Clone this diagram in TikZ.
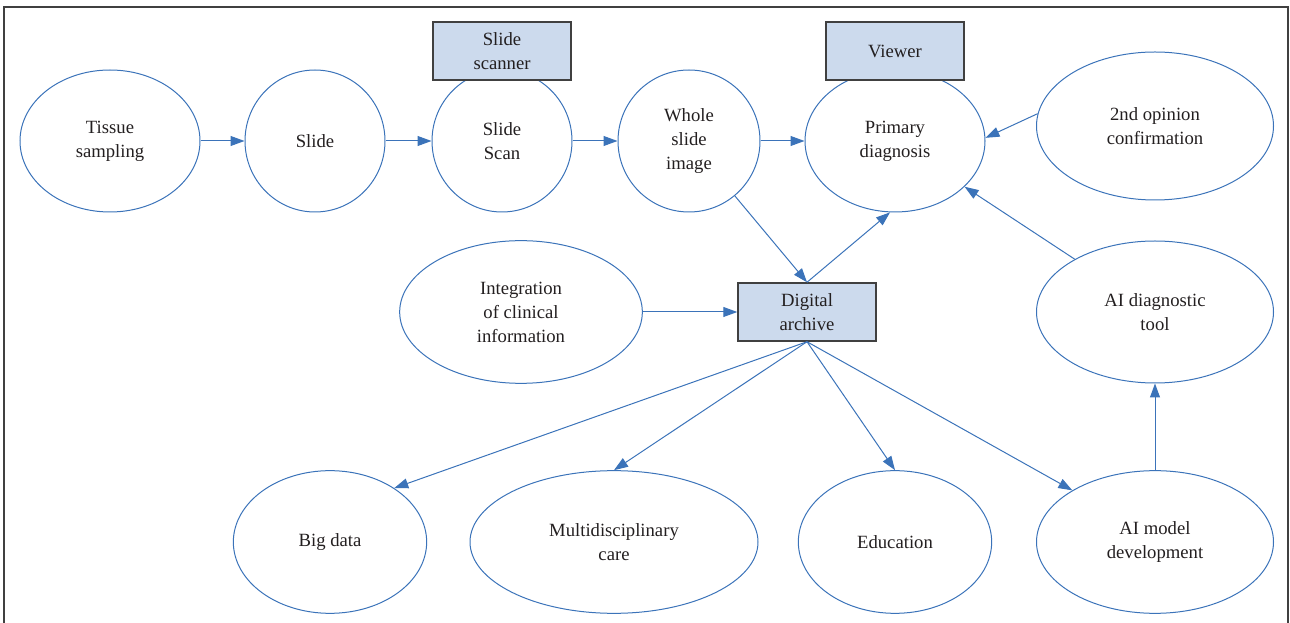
\documentclass[tikz,border=0pt]{standalone}
\usepackage{fontspec}
\setmainfont{Liberation Serif}
\usepackage{tikz}
\usetikzlibrary{shapes,arrows.meta}
\definecolor{lineblue}{RGB}{59,115,185}
\definecolor{boxfill}{RGB}{204,218,237}
\definecolor{boxline}{RGB}{64,64,64}
\definecolor{textgray}{RGB}{35,31,32}
\tikzstyle{Bubble} = [ellipse, draw=lineblue, line width=0.75pt, inner sep=0pt,
    align=center, text=textgray, font=\fontsize{14}{18}\selectfont]
\tikzstyle{Device} = [rectangle, draw=boxline, line width=1.1pt, fill=boxfill,
    minimum width=103.5pt, minimum height=43.5pt, inner sep=0pt,
    align=center, text=textgray, font=\fontsize{14}{18}\selectfont]
\tikzstyle{arrow} = [draw=lineblue, line width=0.75pt, -{Triangle[length=10.5pt,width=7.5pt]}]

\begin{document}
\begin{tikzpicture}[x=0.75pt, y=-0.75pt]
        \useasboundingbox (0,0) rectangle (1290,623);
        \draw [boxline, line width=0.8pt] (4,623) -- (4,7) -- (1288,7) -- (1288,623); %frame
        \node [Bubble, minimum width=135pt, minimum height=106.5pt] (Tissue) at (110,141) {Tissue\\sampling};
        \node [Bubble, minimum width=105pt, minimum height=106.5pt] (Slide) at (315,141) {Slide};
        \node [Bubble, minimum width=105pt, minimum height=106.5pt] (Scan) at (502,141) {Slide\\Scan};
        \node [Bubble, minimum width=106.5pt, minimum height=106.5pt] (WSI) at (689,141) {Whole\\slide\\image};
        \node [Bubble, minimum width=135pt, minimum height=106.5pt] (Primary) at (895,141) {Primary\\diagnosis};
        \node [Bubble, minimum width=177.75pt, minimum height=111pt] (Opinion) at (1155,126) {2nd opinion\\confirmation};
        \node [Bubble, minimum width=182pt, minimum height=107pt] (Clinical) at (521,312) {Integration\\of clinical\\information};
        \node [Bubble, minimum width=177.75pt, minimum height=106.5pt] (AITool) at (1155,312) {AI diagnostic\\tool};
        \node [Bubble, minimum width=145pt, minimum height=107pt] (BigData) at (330,542) {Big data};
        \node [Bubble, minimum width=216pt, minimum height=107pt] (Multi) at (614,542) {Multidisciplinary\\care};
        \node [Bubble, minimum width=145pt, minimum height=107pt] (Education) at (895,542) {Education};
        \node [Bubble, minimum width=177.75pt, minimum height=107pt] (AIModel) at (1155,542) {AI model\\development};
        \node [Device] (Scanner) at (502,51) {Slide\\scanner}; %on top of slide scan
        \node [Device] (Viewer) at (895,51) {Viewer}; %on top of primary diagnosis
        \node [Device] (Archive) at (807,312) {Digital\\archive};
        \draw [arrow] (Tissue) -- (Slide);
        \draw [arrow] (Slide) -- (Scan);
        \draw [arrow] (Scan) -- (WSI);
        \draw [arrow] (WSI) -- (Primary);
        \draw [arrow] (Opinion.174) -- (Primary.2);
        \draw [arrow] (WSI) -- (Archive.north);
        \draw [arrow] (Archive.north) -- (Primary.266);
        \draw [arrow] (AITool) -- (Primary);
        \draw [arrow] (Clinical) -- (Archive);
        \draw [arrow] (Archive.south) -- (BigData.40);
        \draw [arrow] (Archive.south) -- (Multi.north);
        \draw [arrow] (Archive.south) -- (Education.north);
        \draw [arrow] (Archive.south) -- (AIModel.148);
        \draw [arrow] (AIModel) -- (AITool);
    \end{tikzpicture}
\end{document}
